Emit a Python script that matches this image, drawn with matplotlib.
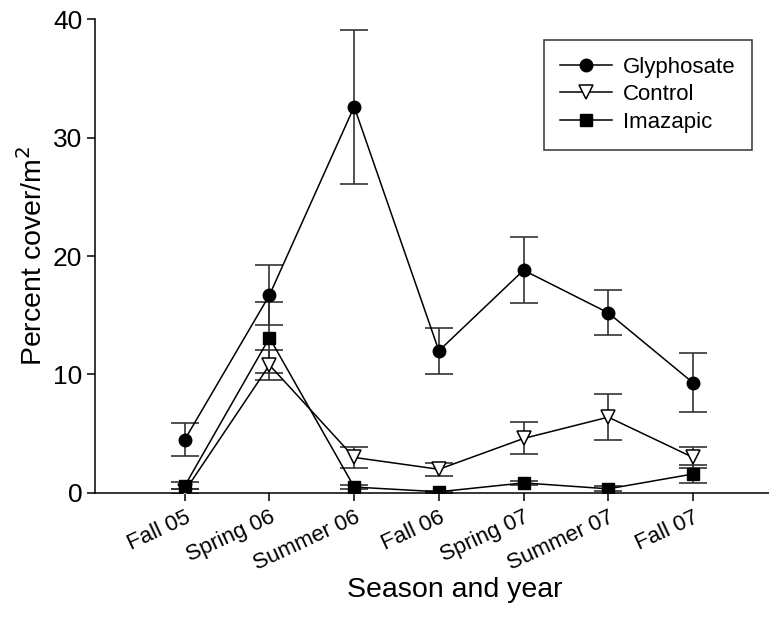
import matplotlib
matplotlib.use("Agg")
import matplotlib.pyplot as plt
import numpy as np

plt.rcParams['font.family'] = ['Liberation Sans', 'DejaVu Sans']

seasons = ["Fall 05", "Spring 06", "Summer 06", "Fall 06", "Spring 07", "Summer 07", "Fall 07"]

glyphosate = [4.5, 16.7, 32.6, 12.0, 18.8, 15.2, 9.3]
glyphosate_err = [1.4, 2.5, 6.5, 1.95, 2.8, 1.9, 2.5]

control = [0.15, 10.8, 3.0, 2.0, 4.6, 6.4, 3.0]
control_err = [0.2, 1.3, 0.85, 0.55, 1.35, 1.95, 0.9]

imazapic = [0.6, 13.1, 0.5, 0.1, 0.85, 0.35, 1.6]
imazapic_err = [0.3, 3.0, 0.2, 0.1, 0.2, 0.2, 0.72]

yticks = [0, 10, 20, 30, 40]

fig = plt.figure(figsize=(7.69, 6.3), dpi=100)
# the x axis runs on past the right edge of the figure
ax = fig.add_axes([0.1235, 0.2175, 0.9363, 0.7523])

x = np.arange(len(seasons))
err_kw = dict(ecolor='#333333', elinewidth=1.2, capsize=10, capthick=1.2)

ax.errorbar(x, glyphosate, yerr=glyphosate_err, fmt='none', zorder=2, **err_kw)
ax.errorbar(x, control, yerr=control_err, fmt='none', zorder=2, **err_kw)
ax.errorbar(x, imazapic, yerr=imazapic_err, fmt='none', zorder=2, **err_kw)

ax.plot(x, glyphosate, '-', color='black', lw=1.1, marker='o', ms=9,
        mfc='black', mec='black', label='Glyphosate', zorder=3)
ax.plot(x, control, '-', color='black', lw=1.1, marker='v', ms=10,
        mfc='white', mec='black', mew=1.1, label='Control', zorder=3)
ax.plot(x, imazapic, '-', color='black', lw=1.1, marker='s', ms=8.5,
        mfc='black', mec='black', label='Imazapic', zorder=3)

ax.set_ylim(0, 40)
ax.set_xlim(-1.06, 7.44)
ax.set_yticks(yticks)
ax.set_xticks(x)
ax.set_xticklabels(seasons, rotation=25, ha='right', rotation_mode='anchor')

for s in ['top', 'right']:
    ax.spines[s].set_visible(False)
for s in ['left', 'bottom']:
    ax.spines[s].set_linewidth(1.1)

ax.tick_params(axis='both', direction='out', length=6, width=1.1)
ax.tick_params(axis='y', pad=3, labelsize=19)
ax.tick_params(axis='x', pad=4, labelsize=16)

ax.set_ylabel("Percent cover/m$^2$", fontsize=20.5, labelpad=4)
ax.set_xlabel("Season and year", fontsize=20.5, va='center')
ax.xaxis.set_label_coords(0.5, -0.2046)

leg = ax.legend(loc='upper right', bbox_to_anchor=(0.9125, 0.956), fontsize=16,
                frameon=True, fancybox=False, edgecolor='black',
                handlelength=2.3, borderpad=0.75, labelspacing=0.3,
                handletextpad=0.5, borderaxespad=0)
leg.get_frame().set_linewidth(1.1)

fig.savefig("out.png", dpi=100)
